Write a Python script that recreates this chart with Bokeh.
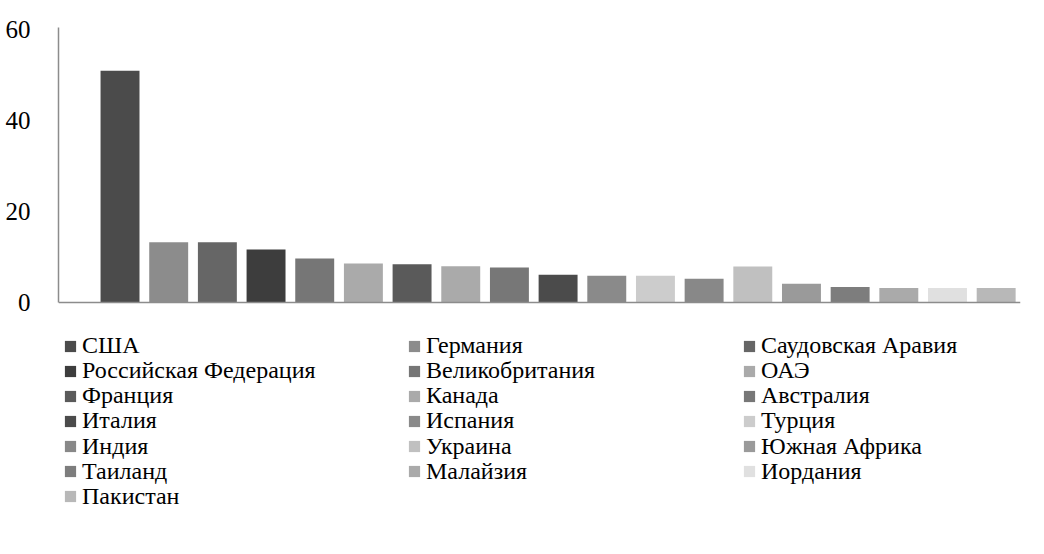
from bokeh.plotting import figure
from bokeh.models import Range1d, FixedTicker, Span, Legend, LegendItem, ColumnDataSource
from bokeh.embed import file_html
from bokeh.resources import INLINE

countries = ["США", "Германия", "Саудовская Аравия", "Российская Федерация",
             "Великобритания", "ОАЭ", "Франция", "Канада", "Австралия", "Италия",
             "Испания", "Турция", "Индия", "Украина", "Южная Африка", "Таиланд",
             "Малайзия", "Иордания", "Пакистан"]
values = [51.0, 13.25, 13.25, 11.65, 9.7, 8.6, 8.4, 8.0, 7.7, 6.1, 5.9, 5.9,
          5.2, 7.9, 4.1, 3.4, 3.2, 3.2, 3.2]
colors = ["#4b4b4b", "#8c8c8c", "#666666", "#3d3d3d", "#767676", "#aaaaaa",
          "#5a5a5a", "#aaaaaa", "#777777", "#4b4b4b", "#8a8a8a", "#cccccc",
          "#888888", "#c0c0c0", "#9a9a9a", "#7d7d7d", "#aaaaaa", "#e0e0e0",
          "#b8b8b8"]
y_ticks = [0, 20, 40, 60]

FONT = "Times New Roman"

src = ColumnDataSource(dict(x=list(range(len(values))), top=values, color=colors, name=countries))

# frame spans the legend area too; the y axis is bounded to the data part
p = figure(width=1028, height=538, output_backend="svg", toolbar_location=None,
           x_range=Range1d(-1.264, 18.5), y_range=Range1d(-50.16, 60.5),
           min_border_left=58, min_border_right=8, min_border_top=27,
           min_border_bottom=8, outline_line_color=None)
p.xaxis.visible = False
p.xgrid.visible = False
p.ygrid.visible = False

r = p.vbar(x="x", top="top", width=0.8, color="color", source=src, line_color=None)

ax = p.yaxis[0]
ax.ticker = FixedTicker(ticks=y_ticks)
ax.bounds = (0, 60.5)
ax.major_tick_line_color = None
ax.minor_tick_line_color = None
ax.axis_line_color = "#8c8c8c"
ax.axis_line_width = 1.5
ax.major_label_text_font = FONT
ax.major_label_text_font_size = "25px"
ax.major_label_text_color = "#000000"
ax.major_label_standoff = 22

p.add_layout(Span(location=0, dimension="width", line_color="#8c8c8c", line_width=1.5))

# legend: 3 columns, one single-item legend per entry, row pitch ~25px
col_x = [5, 349, 684]
for i, name in enumerate(countries):
    row, col = divmod(i, 3)
    cy = 346 + 25.15 * row          # row centre measured from top of page
    leg = Legend(items=[LegendItem(label=name, renderers=[r], index=i)],
                 location=(col_x[col], 517 - cy), orientation="vertical",
                 margin=0, padding=0, spacing=0, label_height=25,
                 glyph_width=14, glyph_height=14, label_standoff=5,
                 label_text_font=FONT, label_text_font_size="24px",
                 label_text_color="#000000",
                 border_line_color=None, background_fill_alpha=0)
    p.add_layout(leg, "center")

open("out.html", "w").write(file_html(p, INLINE))
